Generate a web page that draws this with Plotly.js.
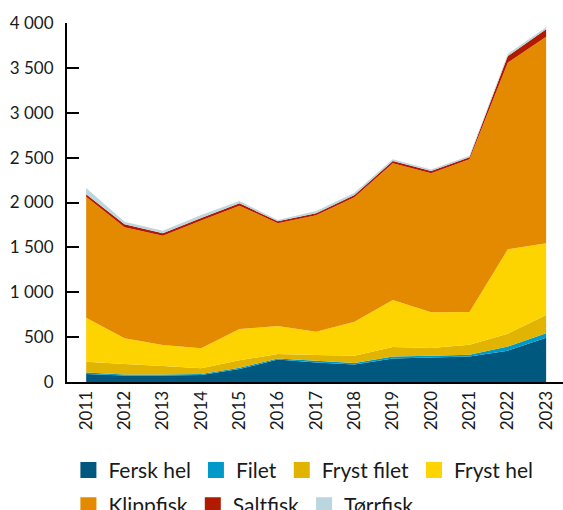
<!DOCTYPE html>
<html>
<head>
<meta charset="utf-8">
<script src="https://cdn.plot.ly/plotly-3.0.1.min.js"></script>
<style>html,body{margin:0;padding:0;background:#fff;}#chart{width:563px;height:510px;}</style>
</head>
<body>
<div id="chart"></div>
<script>
const years = [2011, 2012, 2013, 2014, 2015, 2016, 2017, 2018, 2019, 2020, 2021, 2022, 2023];
const ferskHel   = [90, 72, 72, 78, 145, 250, 218, 195, 262, 273, 284, 349, 492];
const filet      = [15, 11, 11, 12, 13, 11, 18, 17, 22, 19, 21, 47, 50];
const frystFilet = [120, 117, 95, 62, 84, 51, 66, 81, 106, 88, 111, 142, 204];
const frystHel   = [492, 287, 234, 223, 348, 312, 259, 379, 524, 396, 364, 940, 799];
const klippfisk  = [1348, 1237, 1218, 1425, 1375, 1144, 1296, 1386, 1523, 1549, 1701, 2080, 2303];
const saltfisk   = [26, 33, 27, 28, 26, 22, 23, 26, 25, 26, 22, 74, 81];
const torrfisk   = [71, 29, 29, 32, 26, 15, 25, 26, 19, 18, 19, 23, 23];

const seriesNames = ['Fersk hel', 'Filet', 'Fryst filet', 'Fryst hel', 'Klippfisk', 'Saltfisk', 'Tørrfisk'];
const seriesData = [ferskHel, filet, frystFilet, frystHel, klippfisk, saltfisk, torrfisk];
const colors = ['#00587f', '#009ac8', '#e0b400', '#fdd400', '#e38a00', '#b21a00', '#bad7e0'];

const traces = [];
seriesNames.forEach((n, i) => {
  traces.push({
    type: 'scatter', x: years, y: seriesData[i], name: n,
    stackgroup: 'one', mode: 'none', fillcolor: colors[i],
    showlegend: false, hoverinfo: 'x+y+name'
  });
});
seriesNames.forEach((n, i) => {
  traces.push({
    type: 'scatter', x: [null], y: [null], name: n, mode: 'markers',
    marker: {symbol: 'square', size: 16, color: colors[i]},
    showlegend: true, legend: i < 4 ? 'legend' : 'legend2'
  });
});

const legendBase = {
  orientation: 'h', traceorder: 'normal',
  xref: 'container', yref: 'container',
  x: 0.1215, xanchor: 'left', yanchor: 'top',
  font: {size: 21, color: '#1a1a1a'}, itemwidth: 30, tracegroupgap: 0,
  bgcolor: 'rgba(0,0,0,0)'
};

const layout = {
  width: 563, height: 510,
  margin: {l: 67, r: 0, t: 23, b: 128},
  paper_bgcolor: '#fff', plot_bgcolor: '#fff',
  separators: ', ',
  font: {family: 'Lato, "Open Sans", sans-serif', color: '#1a1a1a', size: 16},
  showlegend: true,
  xaxis: {
    range: [2010.5, 2023.44], tickvals: years, ticktext: years.map(String),
    tickangle: -90, showgrid: false, zeroline: false,
    showline: true, linecolor: '#000', linewidth: 2, ticks: '',
    tickfont: {size: 17, color: '#1a1a1a'}, layer: 'below traces', fixedrange: true
  },
  yaxis: {
    range: [0, 4000], tickvals: [0, 500, 1000, 1500, 2000, 2500, 3000, 3500, 4000],
    separatethousands: true, tickformat: ',d',
    showgrid: false, zeroline: false, showline: true, linecolor: '#000', linewidth: 2,
    ticks: 'inside', ticklen: 12, tickwidth: 2, tickcolor: '#000',
    ticklabelstandoff: 8,
    tickfont: {size: 17, color: '#1a1a1a'}, fixedrange: true
  },
  legend: Object.assign({}, legendBase, {y: 0.118}),
  legend2: Object.assign({}, legendBase, {y: 0.049})
};

Plotly.newPlot('chart', traces, layout, {staticPlot: true, displayModeBar: false});
</script>
</body>
</html>
